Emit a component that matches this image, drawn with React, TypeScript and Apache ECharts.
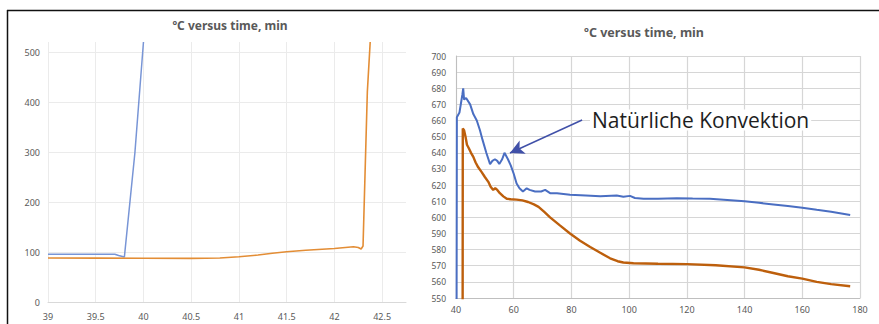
import React, { useEffect, useRef } from "react";
import * as echarts from "echarts";

// Left chart: temperature (ºC) vs time (min), start of the heating
const leftBlue: [number, number][] = [
  [39, 95.5], [39.7, 95.5], [39.74, 93], [39.8, 90], [39.91, 298], [40.0, 520],
];
const leftOrange: [number, number][] = [
  [39, 88], [39.5, 87.8], [40, 87.6], [40.5, 87.3], [40.8, 88], [41, 90.5],
  [41.2, 94], [41.35, 97.5], [41.5, 100.5], [41.7, 103.5], [42, 107],
  [42.2, 110.5], [42.25, 109], [42.28, 106], [42.3, 112], [42.32, 250],
  [42.345, 420], [42.375, 520],
];

// Right chart: whole test
const rightBlue: [number, number][] = [
  [40.2, 540], [40.3, 662], [41.2, 665], [42.2, 676], [42.5, 680], [42.8, 673],
  [43.5, 674], [44.9, 670], [46, 664], [47.2, 660], [48.3, 654], [49.2, 648],
  [50.5, 640], [51.8, 633], [52.6, 635], [53.5, 636], [54.3, 635], [55, 633],
  [56, 636], [56.8, 640], [58, 636], [59, 632], [60, 627], [61, 621], [62, 618],
  [63.2, 616], [64.5, 618], [65.5, 617], [67.4, 616], [69.5, 616], [70.9, 617],
  [72.6, 615], [75, 615], [79.5, 614], [85, 613.5], [90, 613], [95.7, 613.5],
  [98, 612.8], [100.3, 613.3], [102, 612], [105, 611.5], [110, 611.5],
  [116.5, 611.8], [122, 611.6], [128, 611.5], [134, 610.8], [140, 610],
  [145, 609], [150, 608], [155, 607], [160, 606], [165, 604.7], [170, 603.5],
  [176.6, 601.5],
];
const rightOrange: [number, number][] = [
  [42.3, 540], [42.35, 655], [42.8, 654], [43.3, 650], [43.8, 645], [44.4, 643],
  [45.2, 640], [46, 637.5], [46.8, 634], [47.7, 631], [48.9, 628], [50, 625],
  [51.2, 622], [52, 619], [52.9, 617], [53.6, 618], [54.3, 617], [55.2, 615],
  [56.4, 613], [57.6, 611.5], [59, 611.2], [61, 611], [63, 610.5], [65, 609.5],
  [67, 608], [68.6, 606.5], [70.5, 603.5], [72.6, 600], [76, 595], [79.5, 590],
  [83, 585.5], [86.5, 581.6], [90, 578], [93.4, 574.6], [96, 572.8],
  [98, 572], [101.5, 571.5], [110, 571.2], [120, 571], [130, 570.3],
  [140, 569], [145, 567.5], [150, 565.5], [155, 563.5], [160, 562],
  [165, 560], [170, 558.6], [176.6, 557.3],
];

const titleText = "ºC versus time, min";
const annotationText = "Natürliche Konvektion";
const arrowFrom: [number, number] = [83.7, 660.3];
const arrowTo: [number, number] = [58.7, 639.9];

export default function App() {
  const ref = useRef<HTMLDivElement>(null);
  useEffect(() => {
    const chart = echarts.init(ref.current!, null, { renderer: "svg" });
    const font = "'Noto Sans', sans-serif";
    const axisLabelL = { color: "#595959", fontSize: 9, fontFamily: font };
    chart.setOption({
      animation: false,
      backgroundColor: "#ffffff",
      grid: [
        { left: 48, top: 42, width: 358, height: 260 },
        { left: 456, top: 56, width: 404, height: 242 },
      ],
      xAxis: [
        {
          gridIndex: 0, type: "value", min: 39, max: 42.75, interval: 0.5,
          axisLine: { show: true, lineStyle: { color: "#D9D9D9" } },
          axisTick: { show: false },
          splitLine: { show: true, showMaxLine: false, lineStyle: { color: "#EBEBEB" } },
          axisLabel: { ...axisLabelL, margin: 10, showMaxLabel: false },
        },
        {
          gridIndex: 1, type: "value", min: 40, max: 180, interval: 20,
          axisLine: { show: true, lineStyle: { color: "#BFBFBF" } },
          axisTick: { show: false },
          splitLine: { show: true, lineStyle: { color: "#D6D6D6", width: 1.2 } },
          axisLabel: { ...axisLabelL, margin: 7 },
        },
      ],
      yAxis: [
        {
          gridIndex: 0, type: "value", min: 0, max: 520, interval: 100,
          axisLine: { show: false },
          axisTick: { show: false },
          splitLine: { show: true, showMaxLine: false, lineStyle: { color: "#EBEBEB" } },
          axisLabel: { ...axisLabelL, margin: 8, showMaxLabel: false },
        },
        {
          gridIndex: 1, type: "value", min: 550, max: 700, interval: 10,
          axisLine: { show: true, lineStyle: { color: "#BFBFBF" } },
          axisTick: { show: false },
          splitLine: { show: true, lineStyle: { color: "#D6D6D6", width: 1.2 } },
          axisLabel: { ...axisLabelL, fontSize: 8.5, margin: 10 },
        },
      ],
      series: [
        {
          type: "line", xAxisIndex: 0, yAxisIndex: 0, data: leftBlue,
          showSymbol: false, lineStyle: { color: "#7895D6", width: 1.5 },
          itemStyle: { color: "#7895D6" },
        },
        {
          type: "line", xAxisIndex: 0, yAxisIndex: 0, data: leftOrange,
          showSymbol: false, lineStyle: { color: "#E38D35", width: 1.6 },
          itemStyle: { color: "#E38D35" },
        },
        {
          type: "line", xAxisIndex: 1, yAxisIndex: 1, data: rightBlue,
          showSymbol: false, lineStyle: { color: "#4A6EC2", width: 2 },
          itemStyle: { color: "#4A6EC2" },
          markLine: {
            silent: true,
            symbol: ["none", "arrow"],
            symbolSize: [11, 14],
            label: { show: false },
            lineStyle: { color: "#4050A8", width: 1.5, type: "solid" },
            data: [[{ coord: arrowFrom }, { coord: arrowTo }]],
          },
        },
        {
          type: "line", xAxisIndex: 1, yAxisIndex: 1, data: rightOrange,
          showSymbol: false, lineStyle: { color: "#BD5F0C", width: 2.4 },
          itemStyle: { color: "#BD5F0C" },
        },
      ],
      graphic: [
        { type: "line", shape: { x1: 7, y1: 10.5, x2: 879, y2: 10.5 }, style: { stroke: "#111", lineWidth: 1.5 } },
        { type: "line", shape: { x1: 7.5, y1: 10, x2: 7.5, y2: 324 }, style: { stroke: "#111", lineWidth: 1.5 } },
        {
          type: "text", x: 230, y: 25,
          style: { text: titleText, fill: "#595959", font: `bold 12px ${font}`, textAlign: "center", textVerticalAlign: "middle" },
        },
        {
          type: "text", x: 644, y: 32,
          style: { text: titleText, fill: "#595959", font: `bold 12.5px ${font}`, textAlign: "center", textVerticalAlign: "middle" },
        },
        {
          type: "text", x: 590, y: 120, z: 100,
          style: {
            text: annotationText, fill: "#1E1E1E", font: `21px 'Open Sans', sans-serif`,
            textAlign: "left", textVerticalAlign: "middle",
            backgroundColor: "#ffffff", padding: [0, 2, 0, 2],
          },
        },
      ],
    });
    return () => chart.dispose();
  }, []);
  return (
    <div
      ref={ref}
      style={{ position: "fixed", left: 0, top: 0, width: 879, height: 324 }}
    />
  );
}
